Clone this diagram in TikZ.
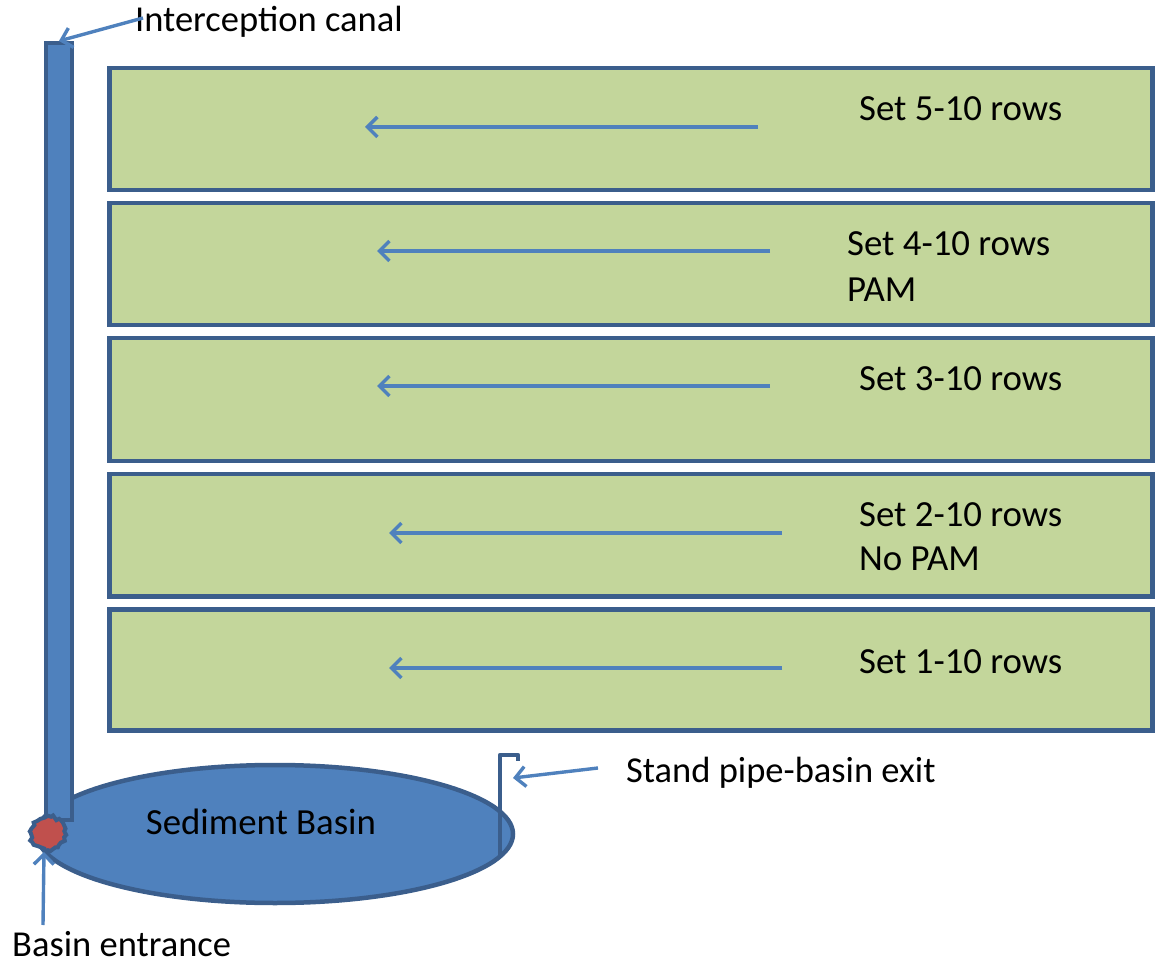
\documentclass[tikz,border=0pt]{standalone}
\usepackage{fontspec}
\setmainfont{Carlito}
\usetikzlibrary{arrows.meta,decorations.pathmorphing,shapes.geometric}
\definecolor{fieldgreen}{HTML}{C3D69B}
\definecolor{darkedge}{HTML}{3B5E8C}
\definecolor{midblue}{HTML}{4F81BD}
\definecolor{blobred}{HTML}{C0504D}
\tikzset{
  rowbox/.style={draw=darkedge,line width=4.5pt,fill=fieldgreen,minimum width=1043pt,anchor=north west,inner sep=0pt},
  flow/.style={draw=midblue,line width=3.4pt,-{Straight Barb[length=10pt,width=20pt,line width=3.4pt]}},
  lbl/.style={font=\fontsize{36.8}{44}\selectfont,anchor=west,inner sep=0pt,align=left},
  callout/.style={draw=midblue,line width=3.4pt,-{Straight Barb[length=10pt,width=20pt,line width=3.4pt]}}
}
\begin{document}
\begin{tikzpicture}[x=1pt,y=-1pt]
\useasboundingbox (0,0) rectangle (1160,965);
% rows
\node[rowbox,minimum height=122pt] (r5) at (107,66) {};
\node[rowbox,minimum height=122pt] (r4) at (107,201) {};
\node[rowbox,minimum height=123pt] (r3) at (107,336) {};
\node[rowbox,minimum height=122pt] (r2) at (107,472) {};
\node[rowbox,minimum height=121pt] (r1) at (107,607) {};
% flow arrows
\coordinate (a5s) at (758,127); \coordinate (a5e) at (365,127);
\coordinate (a4s) at (770,251); \coordinate (a4e) at (377,251);
\coordinate (a3s) at (770,386); \coordinate (a3e) at (377,386);
\coordinate (a2s) at (782,533); \coordinate (a2e) at (389,533);
\coordinate (a1s) at (782,668); \coordinate (a1e) at (389,668);
\draw[flow] (a5s) -- (a5e);
\draw[flow] (a4s) -- (a4e);
\draw[flow] (a3s) -- (a3e);
\draw[flow] (a2s) -- (a2e);
\draw[flow] (a1s) -- (a1e);
% row labels
\node[lbl] (t5) at (859,109) {Set 5-10 rows};
\node[lbl] (t4) at (847,244) {Set 4-10 rows};
\node[lbl] (t4b) at (847,290) {PAM};
\node[lbl] (t3) at (859,379) {Set 3-10 rows};
\node[lbl] (t2) at (859,515) {Set 2-10 rows};
\node[lbl] (t2b) at (859,559) {No PAM};
\node[lbl] (t1) at (859,662) {Set 1-10 rows};
% basin
\node[draw=darkedge,line width=4.5pt,fill=midblue,ellipse,minimum width=476pt,minimum height=138pt,inner sep=0pt] (basin) at (275,834) {};
\node[lbl,anchor=center] (basinlbl) at (261,822) {Sediment Basin};
% canal
\node[draw=darkedge,line width=4pt,fill=midblue,minimum width=26pt,minimum height=777pt,anchor=north west,inner sep=0pt] (canal) at (44,41) {};
% stand pipe
\coordinate (sp0) at (500,857);
\coordinate (sp1) at (500,755);
\coordinate (sp2) at (518,755);
\coordinate (sp3) at (518,761);
\draw[darkedge,line width=4.5pt,line join=round] (sp0) -- (sp1) -- (sp2) -- (sp3);
% entrance blob
\draw[darkedge,line width=4pt,fill=blobred,decorate,decoration={random steps,segment length=3pt,amplitude=1.8pt}] (48,833) circle (17pt);
\coordinate (blob) at (44,852);
% labels with callouts
\node[lbl,font=\fontsize{36.5}{44}\selectfont] (ic) at (135,22) {Interception canal};
\draw[callout] (143,18) -- (canal.north);
\node[lbl,font=\fontsize{36.5}{44}\selectfont] (sp) at (626,773) {Stand pipe-basin exit};
\coordinate (spt) at (513,778);
\draw[callout] (598,768) -- (spt);
\node[lbl,font=\fontsize{36.5}{44}\selectfont] (be) at (12,944) {Basin entrance};
\coordinate (bes) at (43,925);
\draw[callout] (bes) -- (blob);
\end{tikzpicture}
\end{document}
